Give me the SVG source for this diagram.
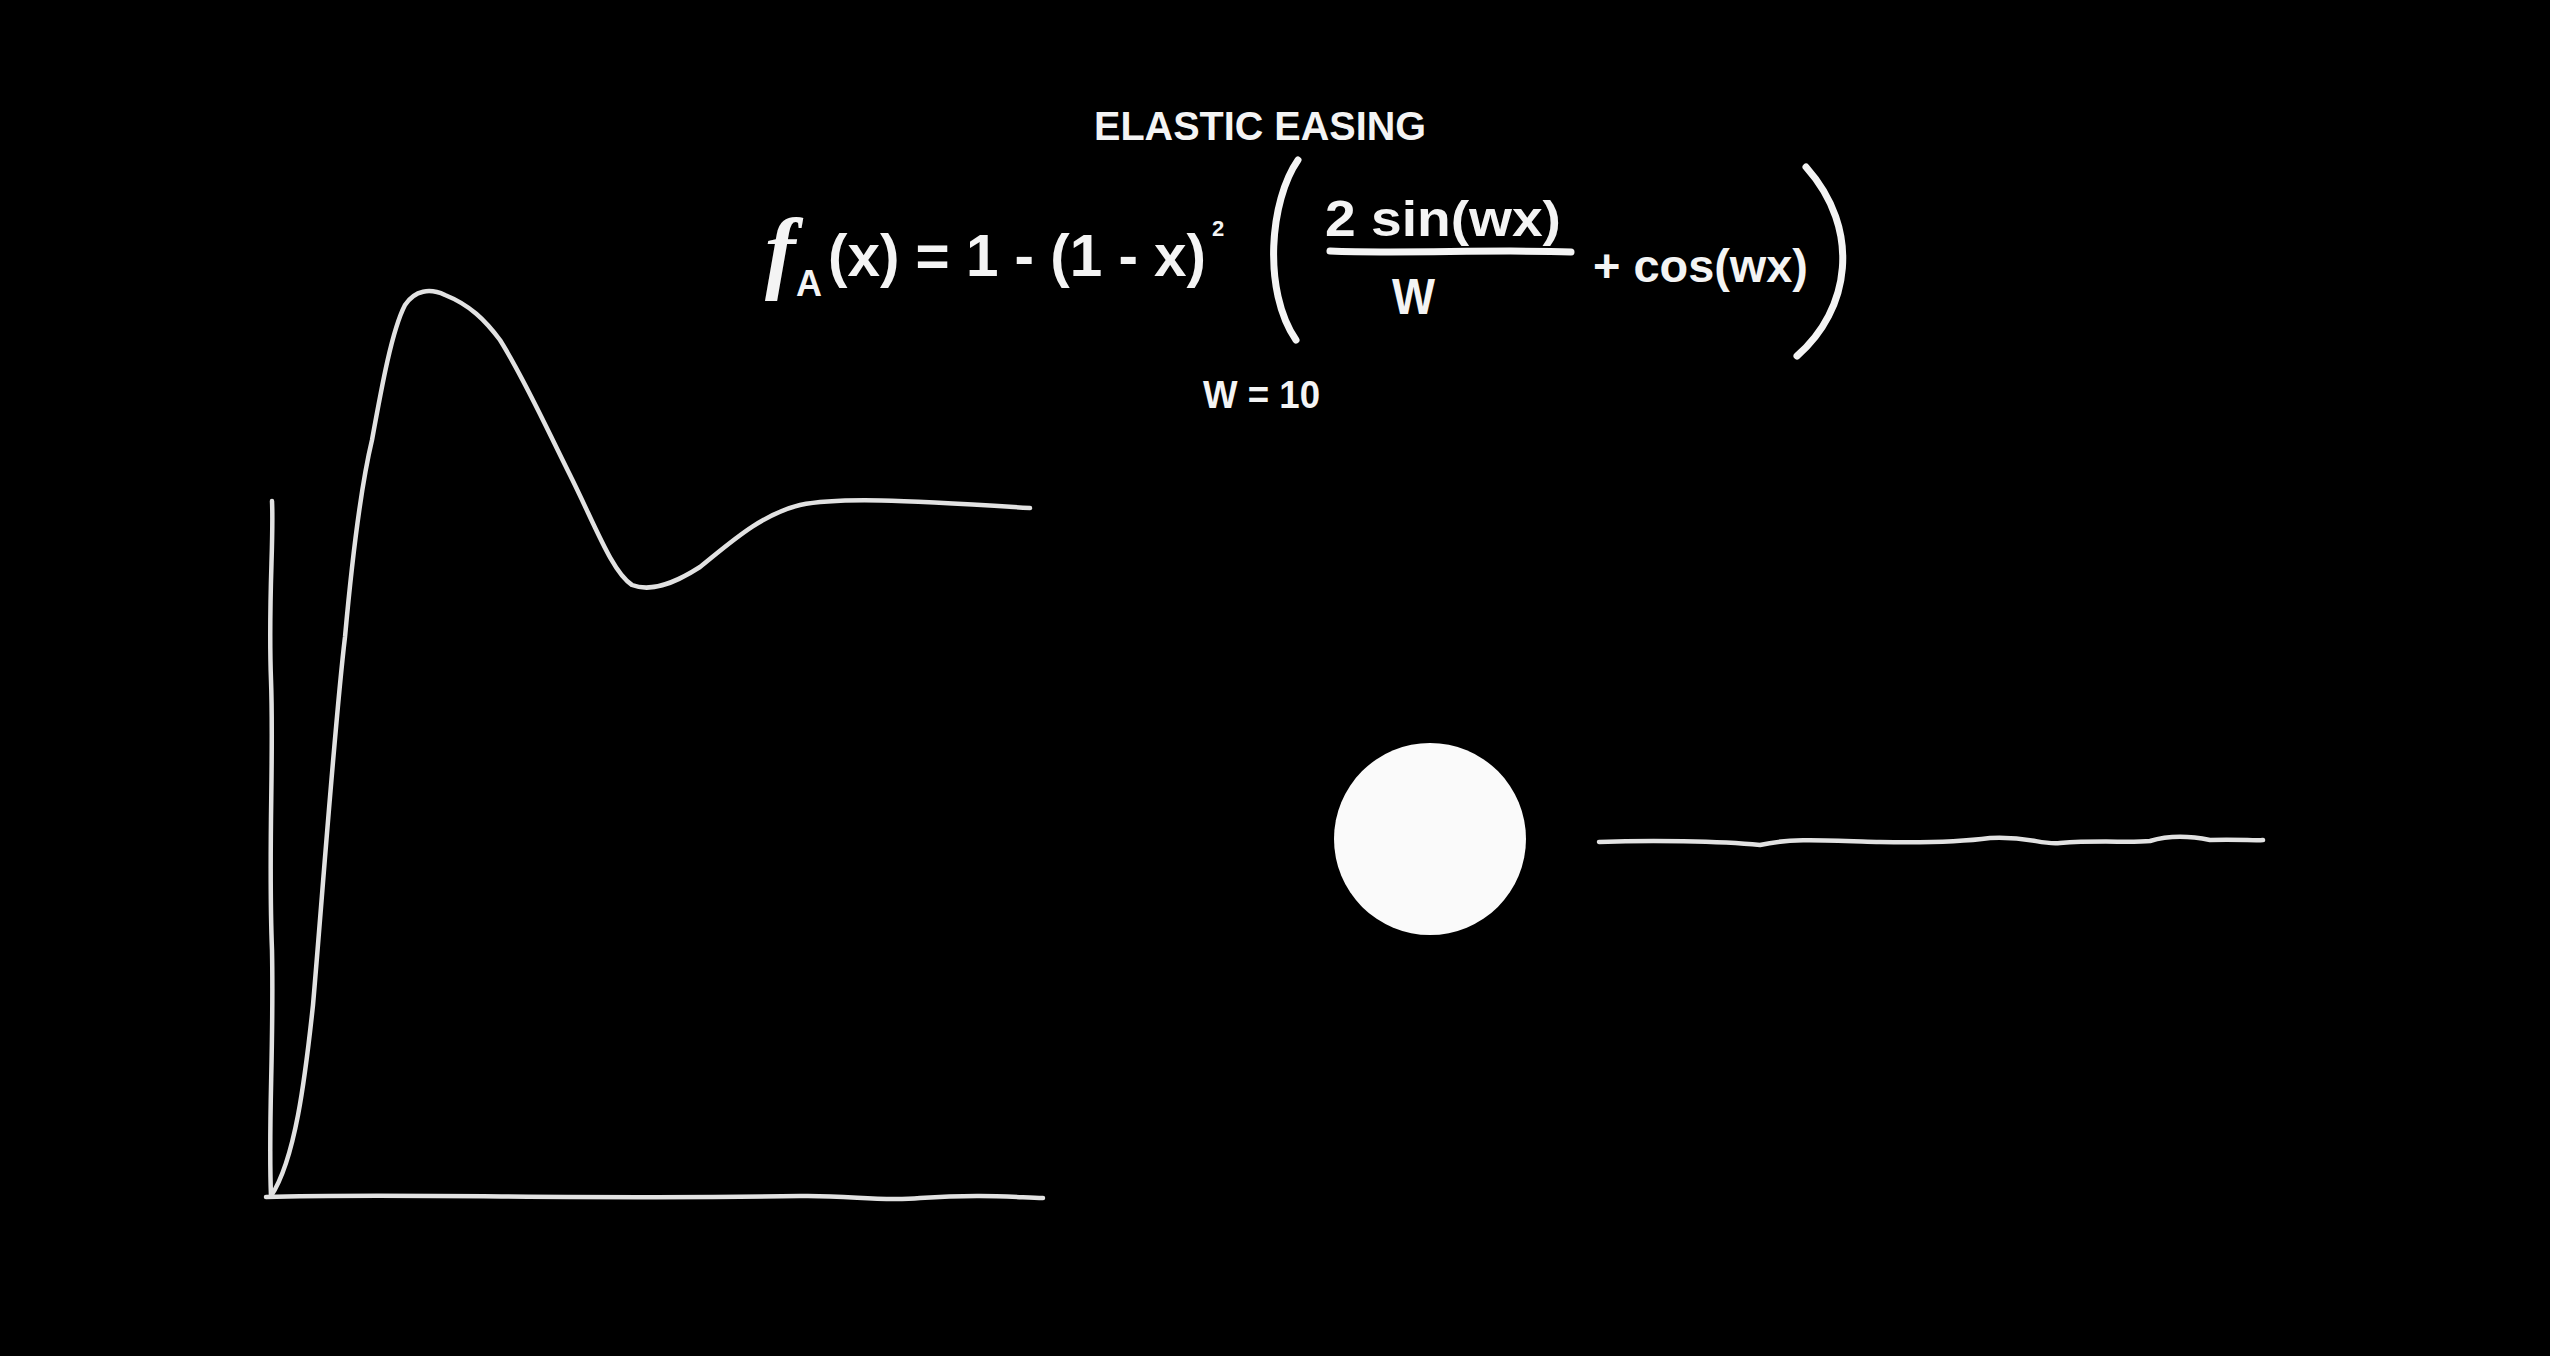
<svg xmlns="http://www.w3.org/2000/svg" width="2550" height="1356" viewBox="0 0 2550 1356">
<style>
.t{fill:#f4f4f4;font-family:"Liberation Sans",Arial,sans-serif;font-weight:bold}
.ln{fill:none;stroke:#e2e2e2;stroke-width:4.5;stroke-linecap:round;stroke-linejoin:round}
.pn{fill:none;stroke:#f4f4f4;stroke-width:7;stroke-linecap:round}
</style>
<rect width="2550" height="1356" fill="#000"/>
<g id="title">
<text class="t" x="1094" y="140" font-size="41" textLength="332" lengthAdjust="spacingAndGlyphs">ELASTIC EASING</text>
</g>
<g id="formula">
<text x="765" y="282" font-size="92" fill="#f4f4f4" font-family="'Liberation Serif',serif" font-style="italic" font-weight="bold">f</text>
<text class="t" x="796" y="296" font-size="36">A</text>
<text class="t" x="828" y="276" font-size="60" textLength="378" lengthAdjust="spacingAndGlyphs">(x) = 1 - (1 - x)</text>
<text class="t" x="1212" y="236" font-size="22">2</text>
<path class="pn" d="M1298,160 C1270,200 1262,290 1296,340"/>
<text class="t" x="1325" y="236" font-size="50" textLength="236" lengthAdjust="spacingAndGlyphs">2 sin(wx)</text>
<path d="M1330,251 C1400,254 1500,249 1571,252" fill="none" stroke="#f4f4f4" stroke-width="7" stroke-linecap="round"/>
<text class="t" x="1392" y="314" font-size="50" textLength="43" lengthAdjust="spacingAndGlyphs">W</text>
<text class="t" x="1593" y="282" font-size="46" textLength="215" lengthAdjust="spacingAndGlyphs">+ cos(wx)</text>
<path class="pn" d="M1806,167 C1862,230 1850,310 1797,356"/>
</g>
<g id="param">
<text class="t" x="1203" y="408" font-size="38" textLength="117" lengthAdjust="spacingAndGlyphs">W = 10</text>
</g>
<g id="graph">
<path class="ln" d="M272,501 C274,540 268,600 271,680 C274,760 268,850 272,950 C274,1050 268,1120 271,1196"/>
<path class="ln" d="M266,1197 C400,1193 600,1200 800,1196 C850,1195 880,1202 920,1198 C980,1194 1010,1197 1043,1198"/>
<path class="ln" d="M271,1196 C295,1160 305,1080 313,1005 C322,900 335,720 345,637 C352,560 360,490 372,440 C382,385 392,330 405,305 C415,290 430,288 445,295 C470,305 485,320 500,340 C525,380 545,425 570,475 C595,525 612,572 632,585 C650,592 672,585 700,567 C730,543 760,515 800,505 C840,497 900,500 1030,508"/>
</g>
<g id="ball">
<circle cx="1430" cy="839" r="96" fill="#fafafa"/>
</g>
<g id="track">
<path class="ln" d="M1599,842 C1650,840 1720,841 1760,845 C1790,838 1820,840 1880,842 C1930,843 1960,842 1990,838 C2030,836 2040,845 2060,843 C2100,840 2130,843 2150,841 C2170,835 2190,836 2210,840 C2240,839 2255,841 2263,840"/>
</g>
</svg>
